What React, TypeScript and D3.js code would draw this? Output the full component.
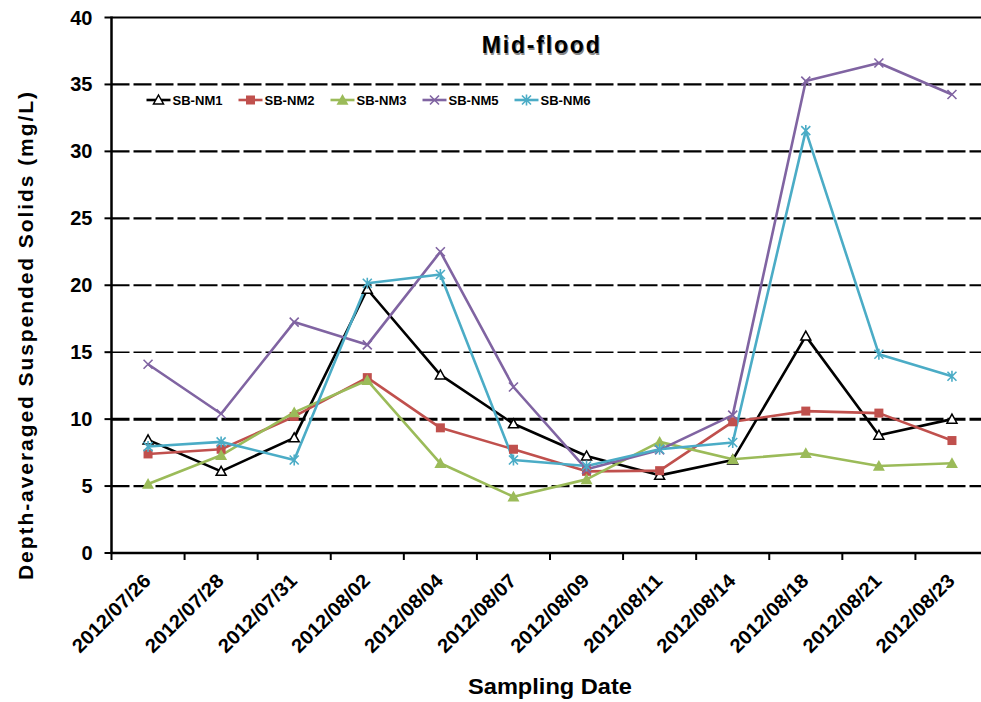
import React from "react";
import * as d3 from "d3";

const dates = [
  "2012/07/26", "2012/07/28", "2012/07/31", "2012/08/02", "2012/08/04", "2012/08/07",
  "2012/08/09", "2012/08/11", "2012/08/14", "2012/08/18", "2012/08/21", "2012/08/23",
];
const nm1 = [8.45, 6.1, 8.6, 19.7, 13.3, 9.65, 7.25, 5.8, 6.95, 16.2, 8.8, 10.0];
const nm2 = [7.4, 7.75, 10.2, 13.1, 9.35, 7.75, 6.1, 6.15, 9.8, 10.6, 10.45, 8.4];
const nm3 = [5.15, 7.3, 10.5, 12.9, 6.7, 4.2, 5.5, 8.3, 7.0, 7.45, 6.5, 6.7];
const nm5 = [14.1, 10.4, 17.25, 15.55, 22.5, 12.4, 6.25, 7.7, 10.3, 35.25, 36.6, 34.25];
const nm6 = [7.95, 8.3, 6.95, 20.15, 20.8, 6.95, 6.5, 7.75, 8.25, 31.55, 14.85, 13.2];
const seriesNames = ["SB-NM1", "SB-NM2", "SB-NM3", "SB-NM5", "SB-NM6"];
const yTicks = [0, 5, 10, 15, 20, 25, 30, 35, 40];

const series = [
  { name: seriesNames[0], values: nm1, color: "#000000", marker: "otri" },
  { name: seriesNames[1], values: nm2, color: "#C0504D", marker: "square" },
  { name: seriesNames[2], values: nm3, color: "#9BBB59", marker: "tri" },
  { name: seriesNames[3], values: nm5, color: "#8064A2", marker: "x" },
  { name: seriesNames[4], values: nm6, color: "#4BACC6", marker: "star" },
];

const FONT = "'Liberation Sans', Arial, sans-serif";

function Marker({ type, x, y, color }: { type: string; x: number; y: number; color: string }) {
  if (type === "otri") {
    const s = 5;
    return (
      <path
        d={`M${x},${y - s} L${x + s},${y + s * 0.8} L${x - s},${y + s * 0.8} Z`}
        fill="#fff"
        stroke={color}
        strokeWidth={1.5}
      />
    );
  }
  if (type === "square") {
    return <rect x={x - 4.5} y={y - 4.5} width={9} height={9} fill={color} />;
  }
  if (type === "tri") {
    const s = 6;
    return (
      <path d={`M${x},${y - s} L${x + s},${y + s * 0.8} L${x - s},${y + s * 0.8} Z`} fill={color} />
    );
  }
  if (type === "x") {
    const s = 4.5;
    return (
      <path
        d={`M${x - s},${y - s} L${x + s},${y + s} M${x - s},${y + s} L${x + s},${y - s}`}
        stroke={color}
        strokeWidth={1.6}
      />
    );
  }
  const s = 4.5;
  return (
    <path
      d={`M${x - s},${y - s} L${x + s},${y + s} M${x - s},${y + s} L${x + s},${y - s} M${x},${y - s - 1} L${x},${y + s + 1}`}
      stroke={color}
      strokeWidth={1.6}
    />
  );
}

export default function App() {
  const W = 981;
  const H = 702;
  const left = 111.5;
  const right = 988.5;
  const top = 17.5;
  const bottom = 553;

  const x = d3.scaleBand<string>().domain(dates).range([left, right]);
  const y = d3.scaleLinear().domain([0, 40]).range([bottom, top]);
  const cx = (d: string) => (x(d) as number) + x.bandwidth() / 2;

  const line = d3
    .line<number>()
    .x((_, i) => cx(dates[i]))
    .y((v) => y(v));

  const legendX0 = 146.5;
  const legendStep = 92;

  return (
    <svg
      width={W}
      height={H}
      style={{ position: "absolute", left: 0, top: 0, background: "#fff" }}
      fontFamily={FONT}
    >
      <rect x={0} y={0} width={W} height={H} fill="#fff" />
      {/* gridlines */}
      {yTicks.filter((t) => t > 0 && t < 40).map((t) => (
        <line
          key={t}
          x1={left}
          x2={right}
          y1={y(t)}
          y2={y(t)}
          stroke="#000"
          strokeWidth={t === 10 ? 3 : t === 15 ? 1.6 : 2.2}
          strokeDasharray="18 4"
        />
      ))}
      {/* top border */}
      <line x1={left} x2={right} y1={y(40)} y2={y(40)} stroke="#000" strokeWidth={2} />
      {/* axes */}
      <line x1={left} x2={left} y1={top - 1} y2={bottom + 1} stroke="#000" strokeWidth={2.5} />
      <line x1={left - 1} x2={right} y1={bottom} y2={bottom} stroke="#000" strokeWidth={2.5} />
      {/* y ticks */}
      {yTicks.map((t) => (
        <g key={t}>
          <line x1={left - 7} x2={left} y1={y(t)} y2={y(t)} stroke="#000" strokeWidth={2} />
          <text
            x={92.5}
            y={y(t)}
            textAnchor="end"
            dominantBaseline="central"
            fontSize={20}
            fontWeight="bold"
          >
            {t}
          </text>
        </g>
      ))}
      {/* x ticks */}
      {dates.concat(["__end"]).map((d, i) => {
        const xx = left + i * x.bandwidth();
        return <line key={d} x1={xx} x2={xx} y1={bottom} y2={bottom + 7} stroke="#000" strokeWidth={2} />;
      })}
      {dates.map((d) => (
        <text
          key={d}
          transform={`translate(${cx(d) + 4},${bottom + 29}) rotate(-45)`}
          textAnchor="end"
          fontSize={19.5}
          fontWeight="bold"
          textLength={102}
          lengthAdjust="spacingAndGlyphs"
        >
          {d}
        </text>
      ))}
      {/* series lines */}
      {series.map((s) => (
        <path key={s.name} d={line(s.values) || ""} fill="none" stroke={s.color} strokeWidth={2.6} strokeLinejoin="round" />
      ))}
      {series.map((s) =>
        s.values.map((v, i) => (
          <Marker key={s.name + i} type={s.marker} x={cx(dates[i])} y={y(v)} color={s.color} />
        ))
      )}
      {/* legend */}
      {series.map((s, i) => {
        const lx = legendX0 + i * legendStep;
        const ly = 100;
        return (
          <g key={s.name}>
            <line x1={lx} x2={lx + 24} y1={ly} y2={ly} stroke={s.color} strokeWidth={2.6} />
            <Marker type={s.marker} x={lx + 12} y={ly} color={s.color} />
            <text x={lx + 26} y={ly} dominantBaseline="central" fontSize={13} fontWeight="bold" textLength={50} lengthAdjust="spacingAndGlyphs">
              {s.name}
            </text>
          </g>
        );
      })}
      {/* title */}
      <text x={482.8} y={54.5} fontSize={23} fontWeight="bold" fill="#888" textLength={118} lengthAdjust="spacing">
        Mid-flood
      </text>
      <text x={481.7} y={53.3} fontSize={23} fontWeight="bold" textLength={118} lengthAdjust="spacing">
        Mid-flood
      </text>
      {/* axis titles */}
      <text x={550} y={694} textAnchor="middle" fontSize={22} fontWeight="bold" textLength={164} lengthAdjust="spacingAndGlyphs">
        Sampling Date
      </text>
      <text
        transform={`translate(33,${(580 + 92) / 2}) rotate(-90)`}
        textAnchor="middle"
        fontSize={21}
        fontWeight="bold"
        textLength={488}
        lengthAdjust="spacing"
      >
        Depth-averaged Suspended Solids (mg/L)
      </text>
    </svg>
  );
}
